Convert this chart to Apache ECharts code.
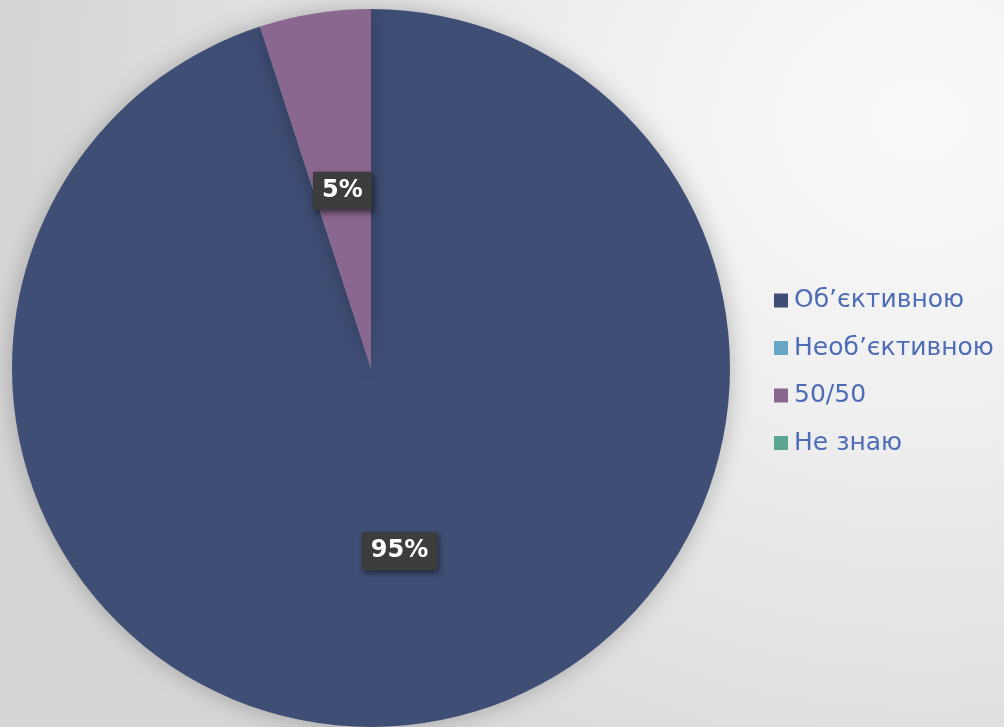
<!DOCTYPE html>
<html><head><meta charset="utf-8">
<script src="https://cdn.jsdelivr.net/npm/echarts@6/dist/echarts.min.js"></script>
<style>
html,body{margin:0;padding:0;width:1004px;height:727px;overflow:hidden;
background: radial-gradient(ellipse 900px 800px at 920px 120px, #fafafa 0%, #f0f0f0 35%, #e2e2e2 70%, #d6d6d6 100%);}
#c{width:1004px;height:727px;}
</style></head>
<body><div id="c"></div>
<script>
const categories = ['Об’єктивною', 'Необ’єктивною', '50/50', 'Не знаю'];
const values = [95, 0, 5, 0];
const colors = ['#3F4E75', '#6AA7C6', '#8A678F', '#5BA592'];

const chart = echarts.init(document.getElementById('c'), null, {renderer: 'canvas'});
const data = categories.map((n, i) => ({
  name: n, value: values[i],
  itemStyle: {color: colors[i]},
  label: {show: values[i] > 0}
}));
chart.setOption({
  backgroundColor: 'transparent',
  animation: false,
  legend: {
    orient: 'vertical',
    left: 769, top: 283,
    itemWidth: 14, itemHeight: 14,
    itemGap: 22.5,
    icon: 'rect',
    textStyle: {color: '#4D6DB6', fontSize: 25, fontFamily: 'DejaVu Sans', padding: [0, 0, 0, 1]},
    data: categories
  },
  series: [{
    type: 'pie',
    center: [371, 368],
    radius: [0, 359],
    startAngle: 90,
    clockwise: true,
    avoidLabelOverlap: false,
    data: data,
    itemStyle: {shadowBlur: 25, shadowColor: 'rgba(0,0,0,0.25)'},
    labelLine: {show: false},
    label: {
      position: 'inside',
      formatter: '{d}%',
      color: '#ffffff',
      fontSize: 24,
      fontWeight: 'bold',
      fontFamily: 'DejaVu Sans',
      backgroundColor: '#3d3d3d',
      padding: [8, 9, 6, 9],
      offset: [0, 3],
      shadowBlur: 6, shadowColor: 'rgba(0,0,0,0.5)', shadowOffsetX: 2, shadowOffsetY: 3
    },
    emphasis: {disabled: true}
  }]
});
</script></body></html>
